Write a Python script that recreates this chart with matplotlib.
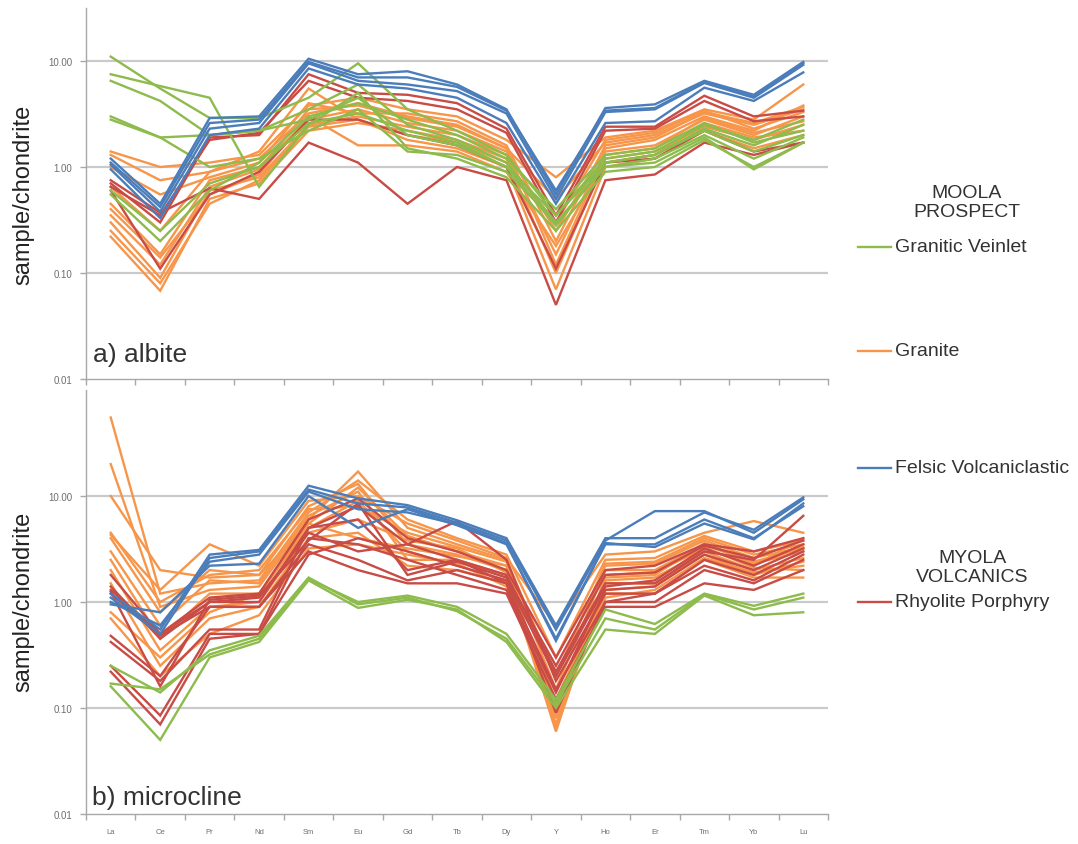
import numpy as np
import matplotlib
matplotlib.use("Agg")
import matplotlib.pyplot as plt
from matplotlib.lines import Line2D
from matplotlib.ticker import FixedLocator, NullLocator

plt.rcParams['font.family'] = ['Liberation Sans', 'DejaVu Sans']

# ---------------------------------------------------------------------------
# Chondrite-normalised REE + Y patterns
# ---------------------------------------------------------------------------
ELEMENTS = ["La", "Ce", "Pr", "Nd", "Sm", "Eu", "Gd", "Tb", "Dy", "Y",
            "Ho", "Er", "Tm", "Yb", "Lu"]

Y_TICKS = [0.01, 0.1, 1, 10]
Y_TICK_LABELS = ["0.01", "0.10", "1.00", "10.00"]

# a) albite -----------------------------------------------------------------
ALBITE_GRANITE = [
    [1.4, 1.0, 1.1, 1.3, 3.8, 4.5, 3.5, 3.0, 1.8, 0.8, 1.9, 2.2, 3.5, 2.8, 6.0],
    [1.3, 0.75, 0.9, 1.2, 3.2, 4.0, 3.0, 2.5, 1.5, 0.5, 1.7, 2.0, 3.2, 2.5, 3.5],
    [0.45, 0.15, 0.75, 1.0, 2.8, 3.5, 2.6, 2.2, 1.4, 0.25, 1.5, 1.8, 3.0, 2.2, 3.8],
    [0.3, 0.09, 0.6, 0.8, 2.5, 3.0, 2.4, 2.0, 1.3, 0.15, 1.4, 1.6, 2.8, 2.0, 3.0],
    [0.22, 0.068, 0.5, 0.7, 2.2, 2.6, 2.2, 1.8, 1.2, 0.1, 1.2, 1.4, 2.4, 1.8, 2.5],
    [0.25, 0.08, 0.45, 0.75, 2.4, 2.8, 1.8, 1.5, 1.0, 0.07, 1.0, 1.2, 2.2, 1.5, 2.0],
    [1.0, 0.55, 0.8, 1.1, 4.0, 3.2, 3.2, 2.7, 1.6, 0.2, 1.6, 1.9, 3.3, 2.6, 3.7],
    [0.4, 0.14, 0.55, 0.85, 3.0, 1.6, 1.6, 1.4, 0.9, 0.18, 1.1, 1.3, 2.6, 1.9, 2.2],
    [0.65, 0.25, 0.9, 1.4, 5.5, 2.8, 2.0, 1.7, 1.1, 0.3, 1.8, 2.1, 3.4, 2.3, 3.3],
    [0.35, 0.12, 0.65, 0.95, 3.5, 3.8, 2.9, 2.4, 1.5, 0.12, 1.3, 1.5, 2.9, 2.1, 2.7],
]
ALBITE_RHYOLITE = [
    [0.75, 0.37, 0.63, 0.5, 1.7, 1.1, 0.45, 1.0, 0.75, 0.05, 0.75, 0.85, 1.7, 1.3, 1.7],
    [0.7, 0.3, 1.9, 2.0, 7.5, 5.0, 4.8, 4.0, 2.3, 0.35, 2.4, 2.4, 4.7, 3.0, 3.4],
    [0.6, 0.11, 0.55, 0.9, 2.8, 2.8, 2.0, 1.6, 1.0, 0.11, 1.1, 1.2, 2.2, 1.4, 1.7],
    [0.65, 0.35, 1.8, 2.1, 6.5, 4.5, 4.2, 3.5, 2.1, 0.3, 2.2, 2.3, 4.2, 2.7, 3.0],
]
ALBITE_VEINLET = [
    [11.0, 5.5, 2.9, 2.9, 4.5, 9.5, 3.5, 2.2, 1.3, 0.35, 1.1, 1.3, 2.3, 1.6, 2.5],
    [7.5, 5.8, 4.5, 0.65, 2.5, 5.0, 1.5, 1.2, 0.8, 0.25, 0.9, 1.0, 1.8, 1.0, 1.7],
    [6.5, 4.2, 2.0, 2.2, 3.5, 6.0, 2.5, 1.8, 1.1, 0.3, 1.0, 1.2, 2.0, 1.2, 1.9],
    [3.0, 1.9, 2.0, 2.2, 2.8, 4.5, 2.0, 1.6, 1.0, 0.35, 1.2, 1.4, 2.5, 1.8, 2.8],
    [2.8, 1.9, 1.0, 1.2, 2.2, 3.5, 1.4, 1.3, 0.9, 0.3, 1.0, 1.1, 1.9, 0.95, 1.7],
    [0.55, 0.2, 0.6, 1.1, 3.0, 4.0, 2.8, 2.0, 1.2, 0.4, 1.3, 1.5, 2.6, 1.7, 2.2],
    [0.6, 0.25, 0.7, 1.0, 2.6, 3.2, 2.2, 1.7, 1.0, 0.28, 1.1, 1.3, 2.2, 1.4, 2.0],
]
ALBITE_FELSIC = [
    [1.2, 0.45, 2.9, 3.0, 10.5, 7.5, 8.0, 6.0, 3.5, 0.55, 3.6, 3.9, 6.5, 4.8, 9.8],
    [1.05, 0.38, 2.3, 2.6, 9.5, 6.5, 6.0, 5.2, 3.2, 0.5, 3.3, 3.5, 6.2, 4.5, 9.2],
    [0.95, 0.33, 2.0, 2.3, 8.5, 6.0, 5.5, 4.5, 2.6, 0.45, 2.6, 2.7, 5.6, 4.2, 7.8],
    [1.1, 0.42, 2.6, 2.8, 9.8, 7.0, 7.0, 5.7, 3.4, 0.6, 3.4, 3.6, 6.3, 4.6, 9.5],
]

# b) microcline --------------------------------------------------------------
MICRO_GRANITE = [
    [55, 1.2, 1.5, 1.6, 7.0, 14, 6.0, 4.0, 2.8, 0.3, 2.5, 2.6, 4.2, 3.0, 3.8],
    [20, 0.9, 1.3, 1.4, 6.0, 17, 5.0, 3.5, 2.5, 0.2, 2.2, 2.3, 3.8, 2.6, 3.3],
    [10, 2.0, 1.7, 1.8, 5.5, 12, 4.2, 3.0, 2.2, 0.15, 2.0, 2.0, 3.5, 2.3, 3.0],
    [4.3, 1.3, 3.5, 2.2, 9.0, 10, 5.5, 3.8, 2.6, 0.6, 2.8, 3.0, 4.5, 5.8, 4.5],
    [4.0, 0.8, 2.0, 1.8, 8.0, 13, 3.5, 2.8, 2.0, 0.07, 1.8, 1.9, 3.2, 2.2, 4.0],
    [3.0, 0.6, 1.6, 1.5, 6.5, 11, 2.5, 2.5, 1.8, 0.06, 1.6, 1.7, 3.0, 2.0, 2.6],
    [2.5, 0.45, 1.2, 1.2, 5.0, 9.0, 3.0, 2.2, 1.6, 0.1, 1.5, 1.5, 2.8, 1.8, 2.4],
    [2.0, 0.35, 0.9, 1.0, 4.5, 6.0, 3.8, 3.2, 1.9, 0.065, 1.3, 1.4, 3.3, 2.1, 2.0],
    [1.5, 0.25, 0.7, 0.9, 4.0, 4.5, 2.2, 2.0, 1.5, 0.12, 1.2, 1.2, 2.5, 1.7, 1.7],
    [0.8, 0.3, 0.8, 1.2, 5.5, 4.0, 3.2, 2.7, 2.2, 0.08, 1.7, 1.8, 3.6, 2.4, 3.2],
    [0.7, 0.2, 0.5, 0.75, 3.2, 3.5, 2.8, 2.3, 1.4, 0.09, 1.1, 1.3, 2.6, 1.9, 2.2],
    [4.5, 1.0, 1.8, 2.0, 7.5, 8.0, 4.5, 3.3, 2.4, 0.2, 2.3, 2.4, 4.0, 2.8, 3.5],
]
MICRO_RHYOLITE = [
    [1.8, 0.5, 1.1, 1.2, 6.0, 9.5, 4.0, 3.0, 2.0, 0.3, 2.0, 2.2, 3.5, 3.0, 4.0],
    [1.4, 0.45, 1.0, 1.0, 5.0, 8.0, 3.5, 2.5, 1.8, 0.22, 1.5, 1.5, 3.0, 2.5, 6.5],
    [1.3, 0.5, 1.0, 1.1, 4.5, 3.0, 3.5, 5.8, 2.5, 0.18, 1.2, 1.2, 2.5, 1.8, 3.0],
    [1.2, 0.48, 0.9, 0.9, 3.5, 2.5, 1.6, 2.0, 1.5, 0.15, 1.0, 1.0, 2.0, 1.5, 2.5],
    [0.48, 0.2, 0.9, 0.9, 3.0, 2.0, 1.5, 1.5, 1.2, 0.12, 0.9, 0.9, 1.5, 1.3, 2.0],
    [0.42, 0.18, 0.55, 0.55, 5.0, 6.0, 2.0, 2.5, 1.5, 0.09, 1.0, 1.2, 2.2, 1.6, 2.8],
    [0.25, 0.085, 0.5, 0.5, 4.0, 3.5, 2.5, 1.8, 1.3, 0.14, 1.3, 1.4, 2.8, 2.0, 3.2],
    [0.22, 0.07, 0.45, 0.5, 2.8, 4.0, 3.0, 2.2, 1.6, 0.2, 1.4, 1.6, 3.2, 2.2, 3.5],
    [1.25, 0.16, 1.05, 1.15, 3.8, 8.5, 1.8, 2.4, 1.7, 0.25, 1.8, 1.9, 3.4, 2.6, 3.8],
]
MICRO_VEINLET = [
    [0.17, 0.15, 0.32, 0.45, 1.65, 1.0, 1.15, 0.9, 0.5, 0.12, 0.85, 0.62, 1.2, 0.92, 1.2],
    [0.16, 0.05, 0.3, 0.42, 1.6, 0.88, 1.05, 0.85, 0.42, 0.1, 0.55, 0.5, 1.15, 0.75, 0.8],
    [0.25, 0.14, 0.35, 0.48, 1.7, 0.95, 1.1, 0.82, 0.45, 0.11, 0.7, 0.55, 1.18, 0.85, 1.1],
]
MICRO_FELSIC = [
    [1.2, 0.55, 2.8, 3.1, 12.5, 9.5, 8.2, 5.9, 4.0, 0.6, 4.0, 4.0, 7.0, 4.8, 9.7],
    [1.1, 0.5, 2.6, 3.0, 11.5, 8.5, 7.8, 5.6, 3.8, 0.55, 3.8, 7.2, 7.2, 4.5, 9.3],
    [0.95, 0.8, 2.2, 2.3, 10.0, 5.0, 7.5, 5.3, 3.5, 0.45, 3.5, 3.5, 6.0, 4.0, 8.0],
    [1.0, 0.6, 2.4, 2.8, 11.0, 7.5, 7.0, 5.4, 3.6, 0.43, 3.6, 3.3, 5.5, 3.9, 8.5],
]

C_VEINLET = "#8DBB4C"
C_GRANITE = "#F7964A"
C_FELSIC = "#4A7DBA"
C_RHYOLITE = "#C84B45"

AXIS_GREY = "#A8A8A8"
GRID_GREY = "#CACACA"
TEXT_GREY = "#6E6E6E"

W, H = 1078, 845
fig = plt.figure(figsize=(W / 100, H / 100), dpi=100)
fig.patch.set_facecolor("white")


def rect(x0, y0, x1, y1):
    return [x0 / W, 1 - y1 / H, (x1 - x0) / W, (y1 - y0) / H]


def style_axes(ax, ytop, show_xlabels):
    ax.set_yscale("log")
    ax.set_ylim(0.01, ytop)
    ax.set_xlim(-0.5, len(ELEMENTS) - 0.5)
    for s in ("top", "right"):
        ax.spines[s].set_visible(False)
    for s in ("left", "bottom"):
        ax.spines[s].set_color(AXIS_GREY)
        ax.spines[s].set_linewidth(1.0)
    for yv in Y_TICKS[1:]:
        ax.axhline(yv, color=GRID_GREY, lw=1.6, zorder=0)
    ax.yaxis.set_major_locator(FixedLocator(Y_TICKS))
    ax.yaxis.set_minor_locator(NullLocator())
    ax.set_yticklabels(Y_TICK_LABELS)
    ax.tick_params(axis="y", length=4, width=1, color=AXIS_GREY,
                   labelsize=7, labelcolor=TEXT_GREY, pad=6)
    ax.set_xticks(range(len(ELEMENTS)))
    ax.set_xticks(np.arange(-0.5, len(ELEMENTS)), minor=True)
    ax.tick_params(axis="x", which="major", length=0, pad=10,
                   labelsize=5.5, labelcolor=TEXT_GREY)
    ax.tick_params(axis="x", which="minor", length=4, width=1, color=AXIS_GREY)
    if show_xlabels:
        ax.set_xticklabels(ELEMENTS)
    else:
        ax.set_xticklabels([])


def draw_group(ax, rows, color):
    x = np.arange(len(ELEMENTS))
    for row in rows:
        ax.plot(x, row, color=color, lw=1.7, solid_joinstyle="miter",
                zorder=2)


ax_a = fig.add_axes(rect(86, 9, 828, 380))
style_axes(ax_a, 10 ** 1.5, False)
draw_group(ax_a, ALBITE_GRANITE, C_GRANITE)
draw_group(ax_a, ALBITE_RHYOLITE, C_RHYOLITE)
draw_group(ax_a, ALBITE_VEINLET, C_VEINLET)
draw_group(ax_a, ALBITE_FELSIC, C_FELSIC)

ax_b = fig.add_axes(rect(86, 391, 828, 815))
style_axes(ax_b, 100, True)
draw_group(ax_b, MICRO_GRANITE, C_GRANITE)
draw_group(ax_b, MICRO_RHYOLITE, C_RHYOLITE)
draw_group(ax_b, MICRO_VEINLET, C_VEINLET)
draw_group(ax_b, MICRO_FELSIC, C_FELSIC)

# axis titles and panel captions
for yc in (195, 602):
    fig.text(23 / W, 1 - yc / H, "sample/chondrite", rotation=90,
             ha="center", va="center", fontsize=17, color="#222222")
fig.text(93 / W, 1 - 362 / H, "a) albite", ha="left", va="baseline",
         fontsize=19, color="#333333")
fig.text(92 / W, 1 - 805 / H, "b) microcline", ha="left", va="baseline",
         fontsize=19, color="#333333")

# key on the right
LEG_FS = 14
fig.text(967 / W, 1 - 203 / H, "MOOLA\nPROSPECT", ha="center", va="center",
         fontsize=LEG_FS, color="#333333", linespacing=1.15)
fig.text(972 / W, 1 - 568 / H, "MYOLA\nVOLCANICS", ha="center", va="center",
         fontsize=LEG_FS, color="#333333", linespacing=1.15)

key_items = [
    ("Granitic Veinlet", C_VEINLET, 248),
    ("Granite", C_GRANITE, 352),
    ("Felsic Volcaniclastic", C_FELSIC, 469),
    ("Rhyolite Porphyry", C_RHYOLITE, 603),
]
for label, color, yc in key_items:
    yf = 1 - yc / H
    fig.add_artist(Line2D([858 / W, 891 / W], [yf, yf], color=color, lw=1.7,
                          transform=fig.transFigure))
    fig.text(895 / W, yf, label, ha="left", va="center", fontsize=LEG_FS,
             color="#333333")

fig.savefig("out.png", dpi=100, facecolor="white")
